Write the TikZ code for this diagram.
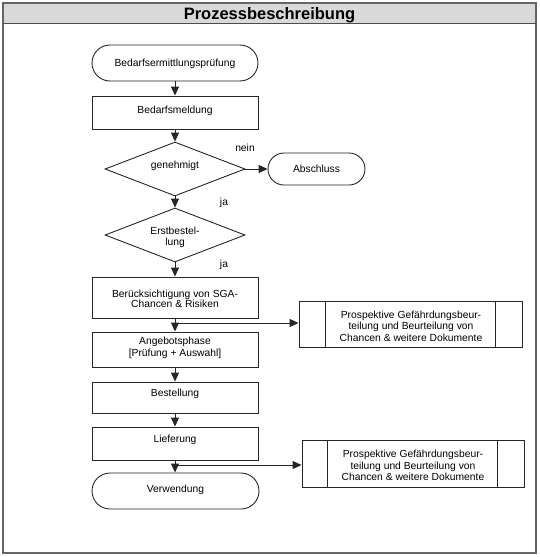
\documentclass[tikz,border=0pt]{standalone}
\usepackage{fontspec}
\setmainfont{Liberation Sans}
\usetikzlibrary{shapes.geometric,arrows.meta}
\begin{document}
\begin{tikzpicture}[x=1pt,y=-1pt,
  line/.style={draw=black!85,line width=0.9pt},
  arr/.style={line,-{Triangle[length=9pt,width=8pt]}},
  procbox/.style={line,rectangle,inner sep=0pt,minimum width=166pt},
  term/.style={line,rectangle,inner sep=0pt},
  decision/.style={line,diamond,inner sep=0pt,minimum width=140pt,minimum height=54pt},
  docbox/.style={line,rectangle,inner sep=0pt},
  txt/.style={inner sep=0pt,anchor=base,font=\fontsize{10.3}{11.5}\selectfont},
  mtxt/.style={inner sep=0pt,anchor=center,align=center,font=\fontsize{10.3}{11.5}\selectfont}
]
\useasboundingbox (0,0) rectangle (540,557);
% frame and title bar
\fill[fill=black!15] (3,3) rectangle (536,23.5);
\draw[black!60,line width=2pt] (3,3) rectangle (536,553);
\draw[black!70,line width=1.2pt] (3,23.5) -- (536,23.5);
\node[inner sep=0pt,anchor=base,font=\fontsize{16.5}{18}\selectfont\bfseries] (title) at (269.5,19) {Prozessbeschreibung};

% main column
\node[term,minimum width=166pt,minimum height=36pt,rounded corners=18pt] (start) at (175,63) {};
\node[procbox,minimum height=33pt] (bedarf) at (175,112.5) {};
\node[decision] (gen) at (175,169) {};
\node[term,minimum width=97pt,minimum height=32pt,rounded corners=16pt] (absch) at (316.5,169) {};
\node[decision] (erst) at (175,235) {};
\node[procbox,minimum height=41pt] (beruck) at (175,297.5) {};
\node[procbox,minimum height=35pt] (angebot) at (175,349.5) {};
\node[procbox,minimum height=31pt] (bestell) at (175,397.5) {};
\node[procbox,minimum height=33pt] (liefer) at (175,443.5) {};
\node[term,minimum width=167pt,minimum height=36pt,rounded corners=18pt] (verw) at (175.5,491) {};

% document boxes
\node[docbox,minimum width=223pt,minimum height=46pt] (side1) at (410.5,324) {};
\draw[line] ([xshift=27pt]side1.north west) -- ([xshift=27pt]side1.south west);
\draw[line] ([xshift=-27pt]side1.north east) -- ([xshift=-27pt]side1.south east);
\node[docbox,minimum width=222pt,minimum height=47pt] (side2) at (413,463.5) {};
\draw[line] ([xshift=26pt]side2.north west) -- ([xshift=26pt]side2.south west);
\draw[line] ([xshift=-27pt]side2.north east) -- ([xshift=-27pt]side2.south east);

% texts
\node[txt] (tstart) at (175,66.5) {Bedarfsermittlungsprüfung};
\node[txt] (tbedarf) at (175,113) {Bedarfsmeldung};
\node[txt] (tgen) at (175,168.5) {genehmigt};
\node[txt] (tabsch) at (316.5,172) {Abschluss};
\node[txt] (tnein) at (245,151) {nein};
\node[txt] (tja1) at (224,205) {ja};
\node[mtxt] (terst) at (175,237.5) {Erstbestel-\\lung};
\node[txt] (tja2) at (224,267) {ja};
\node[mtxt,font=\fontsize{10.3}{10.5}\selectfont] (tberuck) at (175,299) {Berücksichtigung von SGA-\\Chancen \& Risiken};
\node[mtxt] (tangebot) at (175,348) {Angebotsphase\\{[}Prüfung + Auswahl{]}};
\node[txt] (tbestell) at (175,396) {Bestellung};
\node[txt] (tliefer) at (175,442) {Lieferung};
\node[txt] (tverw) at (175.5,492) {Verwendung};
\node[mtxt] (tside1) at (411,326) {Prospektive Gefährdungsbeur-\\teilung und Beurteilung von\\Chancen \& weitere Dokumente};
\node[mtxt] (tside2) at (413,465.5) {Prospektive Gefährdungsbeur-\\teilung und Beurteilung von\\Chancen \& weitere Dokumente};

% connectors
\draw[arr] (start) -- (bedarf);
\draw[arr] (bedarf) -- (gen);
\draw[arr] (gen) -- (absch);
\draw[arr] (gen) -- (erst);
\draw[arr] (erst) -- (beruck);
\draw[arr] (beruck) -- (angebot);
\coordinate (j1) at (175,323);
\draw[arr] (j1) -- (j1 -| side1.west);
\draw[arr] (angebot) -- (bestell);
\draw[arr] (bestell) -- (liefer);
\draw[arr] (liefer.south) -- (liefer.south |- verw.north);
\coordinate (j2) at (175,465);
\draw[arr] (j2) -- (j2 -| side2.west);
\end{tikzpicture}
\end{document}
